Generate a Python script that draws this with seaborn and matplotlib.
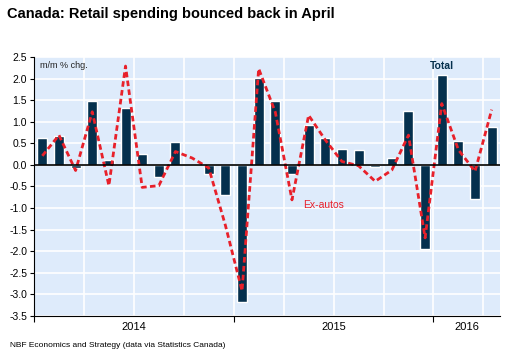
import numpy as np
import pandas as pd
import matplotlib
matplotlib.use("Agg")
import matplotlib.pyplot as plt
import seaborn as sns

# monthly data Jan 2014 - Apr 2016, m/m % change
months = pd.date_range("2014-01-01", "2016-04-01", freq="MS").strftime("%Y-%m").tolist()
total = [0.62, 0.67, -0.06, 1.48, 0.12, 1.32, 0.25, -0.27, 0.53, 0.0, -0.22, -0.69,
         -3.18, 2.01, 1.48, -0.22, 0.92, 0.62, 0.37, 0.35, -0.04, 0.16, 1.25, -1.94,
         2.08, 0.55, -0.78, 0.88]
ex_autos = [0.21, 0.69, -0.13, 1.23, -0.48, 2.29, -0.52, -0.48, 0.31, 0.16, -0.07, -1.40,
            -2.92, 2.23, 1.22, -0.81, 1.15, 0.58, 0.08, -0.02, -0.38, -0.12, 0.69, -1.69,
            1.42, 0.35, -0.15, 1.28]
year_labels = ["2014", "2015", "2016"]

sns.set_style("white")
plt.rcParams["font.family"] = ["Liberation Sans", "DejaVu Sans"]
plt.rcParams["text.color"] = "black"
plt.rcParams["xtick.color"] = "black"
plt.rcParams["ytick.color"] = "black"

fig = plt.figure(figsize=(5.12, 3.64), dpi=100)
ax = fig.add_axes([0.0664, 0.1319, 0.9102, 0.7115])
ax.set_facecolor("#deebfb")

df = pd.DataFrame({"month": months, "total": total, "ex_autos": ex_autos,
                   "pos": np.arange(len(months))})

sns.barplot(data=df, x="month", y="total", color="#05304d", width=0.6,
            saturation=1, ax=ax, zorder=3)
sns.lineplot(data=df, x="pos", y="ex_autos", color="#e8202a", lw=2,
             ax=ax, zorder=4, dashes=False)
ax.lines[-1].set_dashes((2.0, 1.2))

ax.set_xlim(-0.5, len(months) - 0.5)
ax.set_ylim(-3.5, 2.5)
ax.set_yticks(np.arange(-3.5, 2.51, 0.5))
ax.set_yticklabels([f"{v:.1f}" for v in np.arange(-3.5, 2.51, 0.5)], fontsize=7.5)

# year boundaries as ticks, year names centred under each year
ax.set_xticks([-0.5, 11.5, 23.5])
ax.set_xticklabels([])
ax.set_xticks([5.5, 17.5, 25.5], minor=True)
ax.set_xticklabels(year_labels, minor=True, fontsize=8)
ax.tick_params(axis="x", which="major", length=4, direction="out", bottom=True, color="black")
ax.tick_params(axis="x", which="minor", length=0, pad=4)
ax.tick_params(axis="y", length=3, direction="out", left=True, pad=2, color="black")

for y in np.arange(-3.5, 2.51, 0.5):
    ax.axhline(y, color="white", lw=1.2, zorder=1)
for x in np.arange(2.5, len(months), 3):
    ax.axvline(x, color="white", lw=1.2, zorder=1)
ax.axhline(0, color="black", lw=1.2, zorder=5)

for s in ["top", "right"]:
    ax.spines[s].set_visible(False)
ax.spines["left"].set_color("black")
ax.spines["bottom"].set_color("black")
ax.set_xlabel("")
ax.set_ylabel("")

ax.text(0.012, 0.985, "m/m % chg.", transform=ax.transAxes, fontsize=6.5,
        va="top", ha="left", color="#222222")
ax.text(24.0, 2.18, "Total", fontsize=7.5, color="#05304d", fontweight="bold",
        ha="center", va="bottom")
ax.text(16.9, -0.92, "Ex-autos", fontsize=7.5, color="#e8202a",
        ha="center", va="center")

fig.text(0.014, 0.962, "Canada: Retail spending bounced back in April",
         fontsize=10.5, fontweight="bold", va="center", ha="left", color="black")
fig.text(0.02, 0.052, "NBF Economics and Strategy (data via Statistics Canada)",
         fontsize=6, va="center", ha="left", color="black")

fig.savefig("out.png", dpi=100)
